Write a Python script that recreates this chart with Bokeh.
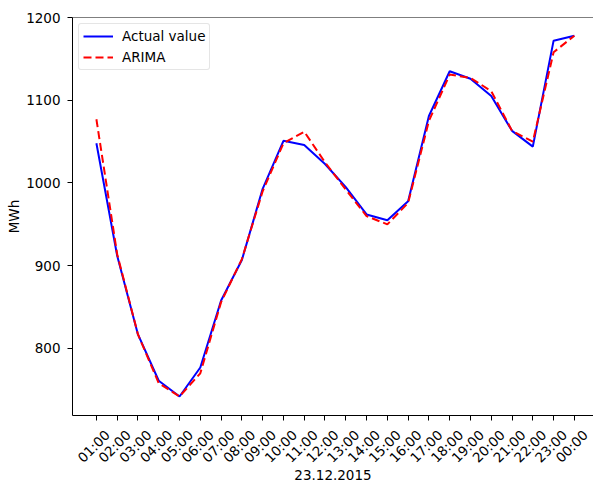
import math
from bokeh.plotting import figure
from bokeh.models import (ColumnDataSource, FixedTicker, Range1d, Span, Legend,
                          LegendItem, LinearAxis, CustomLabelingPolicy)
from bokeh.embed import file_html
from bokeh.resources import INLINE

hours = ["01:00", "02:00", "03:00", "04:00", "05:00", "06:00", "07:00", "08:00",
         "09:00", "10:00", "11:00", "12:00", "13:00", "14:00", "15:00", "16:00",
         "17:00", "18:00", "19:00", "20:00", "21:00", "22:00", "23:00", "00:00"]
actual = [1048, 912, 817, 761, 742, 777, 858, 907, 993, 1051, 1046, 1023,
          995, 962, 955, 978, 1081, 1135, 1126, 1105, 1063, 1044, 1172, 1178]
arima = [1077, 914, 817, 758, 742, 770, 856, 908, 990, 1048, 1062, 1025,
         992, 960, 950, 976, 1075, 1131, 1127, 1111, 1063, 1050, 1158, 1178]
y_ticks = [800, 900, 1000, 1100, 1200]
x_label = "23.12.2015"
y_label = "MWh"

idx = list(range(len(hours)))
src = ColumnDataSource(dict(x=idx, actual=actual, arima=arima))

FONT = "DejaVu Sans"
FS = "13.5px"
X0, X1 = -1.15, 23.92
SHIFT = 0.53  # centres rotated tick labels under their ticks
p = figure(width=593, height=483, output_backend="svg", toolbar_location=None,
           x_range=Range1d(X0, X1), y_range=Range1d(719, 1200),
           min_border_left=72, min_border_top=17, min_border_bottom=68, min_border_right=0)
p.extra_x_ranges = {"lab": Range1d(X0 - SHIFT, X1 - SHIFT)}
p.outline_line_alpha = 0
p.xgrid.visible = False
p.ygrid.visible = False

r1 = p.line("x", "actual", source=src, line_color="#0000ff", line_width=2)
r2 = p.line("x", "arima", source=src, line_color="#ff0000", line_width=2, line_dash="8 4")

p.add_layout(Span(location=1200, dimension="width", line_color="black", line_width=1))

def style(ax):
    ax.axis_line_color = "black"
    ax.major_tick_line_color = "black"
    ax.major_tick_out = 5
    ax.major_tick_in = 0
    ax.minor_tick_line_color = None
    ax.major_label_text_font = FONT
    ax.major_label_text_font_size = FS
    ax.major_label_text_color = "black"
    ax.axis_label_text_font = FONT
    ax.axis_label_text_font_size = FS
    ax.axis_label_text_font_style = "normal"
    ax.axis_label_text_color = "black"

hide_all = CustomLabelingPolicy(code="""
try { indices.clear(); return indices; } catch (e) {}
try { for (let i = 0; i < indices.size; i++) indices.unset(i); return indices; } catch (e) {}
try { for (let i = 0; i < indices.size; i++) indices.set(i, false); return indices; } catch (e) {}
return indices;
""")

# tick marks only (labels come from the axis below)
xa = p.xaxis[0]
style(xa)
xa.ticker = FixedTicker(ticks=idx)
xa.major_label_policy = hide_all
xa.major_label_text_font_size = "0px"
xa.major_label_standoff = 0

lab = LinearAxis(x_range_name="lab")
style(lab)
lab.ticker = FixedTicker(ticks=idx)
lab.major_label_overrides = {i: h for i, h in zip(idx, hours)}
lab.major_label_orientation = math.pi / 4
lab.axis_line_color = None
lab.major_tick_line_color = None
lab.major_tick_out = 0
lab.major_label_standoff = 12
lab.axis_label = x_label
lab.axis_label_standoff = -4
p.add_layout(lab, "below")

ya = p.yaxis[0]
style(ya)
ya.ticker = FixedTicker(ticks=y_ticks)
ya.major_label_standoff = 7
ya.axis_label = y_label
ya.axis_label_standoff = 1

legend = Legend(items=[LegendItem(label="Actual value", renderers=[r1]),
                       LegendItem(label="ARIMA", renderers=[r2])],
                location="top_left")
legend.margin = 6
legend.padding = 4
legend.spacing = 5
legend.glyph_width = 30
legend.glyph_height = 16
legend.label_standoff = 9
legend.label_text_font = FONT
legend.label_text_font_size = FS
legend.label_text_color = "black"
legend.label_height = 16
legend.border_line_color = "#cccccc"
legend.border_line_width = 1
legend.background_fill_alpha = 0.8
legend.border_radius = 3
p.add_layout(legend, "center")

open("out.html", "w").write(file_html(p, INLINE))
